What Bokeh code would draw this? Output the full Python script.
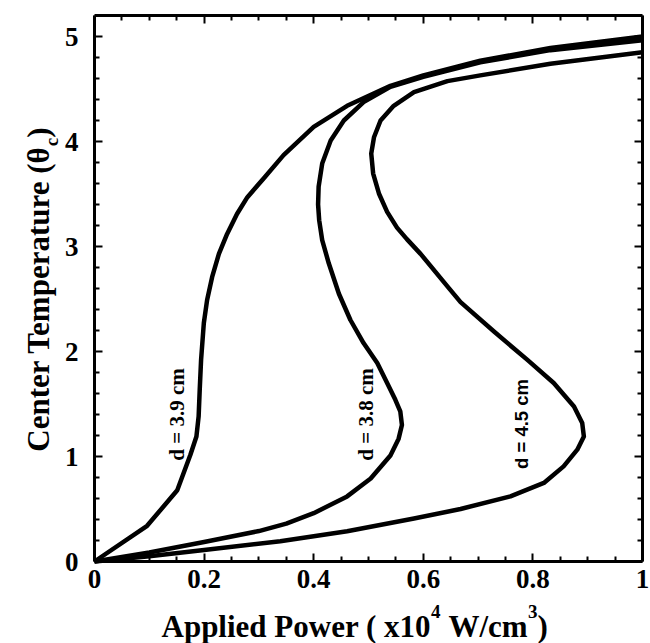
import math
from bokeh.plotting import figure
from bokeh.models import LinearAxis, FixedTicker, Label, Range1d
from bokeh.embed import file_html
from bokeh.resources import INLINE

# ---------------- data ----------------
x_ticks = [0, 0.2, 0.4, 0.6, 0.8, 1.0]
x_tick_labels = ["0", "0.2", "0.4", "0.6", "0.8", "1"]
x_minor = [0.05, 0.1, 0.15, 0.25, 0.3, 0.35, 0.45, 0.5, 0.55, 0.65, 0.7, 0.75, 0.85, 0.9, 0.95]
y_ticks = [0, 1, 2, 3, 4, 5]
y_tick_labels = ["0", "1", "2", "3", "4", "5"]
y_minor = [0.2, 0.4, 0.6, 0.8, 1.2, 1.4, 1.6, 1.8, 2.2, 2.4, 2.6, 2.8,
           3.2, 3.4, 3.6, 3.8, 4.2, 4.4, 4.6, 4.8]
x_lo, x_hi = 0.0, 1.0
y_lo, y_hi = 0.0, 5.2

# d = 3.9 cm
a_x = [0, 0.096, 0.151, 0.175, 0.186, 0.190, 0.192, 0.1945, 0.1995, 0.2055, 0.2147,
       0.227, 0.242, 0.260, 0.279, 0.309, 0.345, 0.40, 0.461, 0.54, 0.60, 0.704, 0.832, 1.0]
a_y = [0, 0.34, 0.678, 1.017, 1.19, 1.38, 1.635, 1.92, 2.27, 2.49, 2.71,
       2.93, 3.12, 3.31, 3.47, 3.65, 3.87, 4.14, 4.34, 4.53, 4.63, 4.77, 4.89, 5.0]

# d = 3.8 cm
b_x = [0, 0.10, 0.20, 0.30, 0.35, 0.40, 0.461, 0.504, 0.54, 0.555, 0.561, 0.558,
       0.549, 0.534, 0.516, 0.491, 0.467, 0.446, 0.4275, 0.4155, 0.41, 0.408, 0.409,
       0.4155, 0.431, 0.455, 0.491, 0.54, 0.60, 0.704, 0.832, 1.0]
b_y = [0, 0.085, 0.185, 0.29, 0.36, 0.46, 0.62, 0.79, 1.01, 1.17, 1.30, 1.43,
       1.54, 1.70, 1.89, 2.08, 2.30, 2.55, 2.84, 3.06, 3.25, 3.40, 3.57,
       3.79, 4.01, 4.20, 4.375, 4.52, 4.615, 4.755, 4.87, 4.965]

# d = 4.5 cm
c_x = [0, 0.10, 0.20, 0.339, 0.461, 0.583, 0.668, 0.759, 0.82, 0.856, 0.881, 0.893,
       0.890, 0.875, 0.838, 0.79, 0.729, 0.668, 0.644, 0.595, 0.57, 0.552, 0.534, 0.519,
       0.5085, 0.505, 0.51, 0.522, 0.546, 0.583, 0.644, 0.704, 0.832, 1.0]
c_y = [0, 0.05, 0.11, 0.193, 0.288, 0.41, 0.50, 0.62, 0.748, 0.906, 1.065, 1.19,
       1.32, 1.476, 1.70, 1.92, 2.19, 2.47, 2.62, 2.93, 3.07, 3.18, 3.33, 3.505,
       3.695, 3.885, 4.04, 4.20, 4.34, 4.47, 4.575, 4.63, 4.74, 4.85]

curve_label_text = ["d = 3.9 cm", "d = 3.8 cm", "d = 4.5 cm"]
curve_label_x = [0.150, 0.495, 0.779]
curve_label_y = [1.40, 1.40, 1.31]
curve_label_font = ["Liberation Serif", "Liberation Serif", "Liberation Sans"]
curve_label_size = ["21px", "21px", "18.5px"]

SERIF = "Liberation Serif"

# ---------------- layout (pixels) ----------------
W, H = 650, 643
FL, FR, FT, FB = 94, 642, 15, 561     # box edges on the canvas
sx = (x_hi - x_lo) / (FR - FL)
sy = (y_hi - y_lo) / (FB - FT)
xr = Range1d(x_lo - FL * sx, x_hi + (W - FR) * sx)
yr = Range1d(y_lo - (H - FB) * sy, y_hi + FT * sy)

p = figure(width=W, height=H, x_range=xr, y_range=yr,
           output_backend="svg", toolbar_location=None,
           min_border=0, min_border_left=0, min_border_right=0,
           min_border_top=0, min_border_bottom=0, x_axis_location=None, y_axis_location=None)
p.background_fill_color = "white"
p.border_fill_color = "white"
p.outline_line_color = None
p.xgrid.visible = False
p.ygrid.visible = False

xt = FixedTicker(ticks=x_ticks, minor_ticks=x_minor)
yt = FixedTicker(ticks=y_ticks, minor_ticks=y_minor)

def make_axis(ticker, loc, bounds, labels, overrides=None, standoff=0):
    ax = LinearAxis(ticker=ticker, fixed_location=loc, bounds=bounds)
    ax.axis_line_width = 3
    ax.axis_line_color = "black"
    ax.major_tick_in = 8
    ax.major_tick_out = 0
    ax.minor_tick_in = 5
    ax.minor_tick_out = 0
    ax.major_tick_line_width = 2
    ax.minor_tick_line_width = 2
    ax.axis_label = None
    if labels:
        ax.major_label_overrides = overrides
        ax.major_label_text_font = SERIF
        ax.major_label_text_font_style = "bold"
        ax.major_label_text_font_size = "27px"
        ax.major_label_text_color = "black"
        ax.major_label_standoff = standoff
    else:
        ax.major_label_text_font_size = "0px"
        ax.major_label_text_color = None
        ax.major_label_standoff = 0
    return ax

p.add_layout(make_axis(xt, y_lo, (x_lo, x_hi), True,
                       {t: s for t, s in zip(x_ticks, x_tick_labels)}, 8), "below")
p.add_layout(make_axis(yt, x_lo, (y_lo, y_hi), True,
                       {t: s for t, s in zip(y_ticks, y_tick_labels)}, 16), "left")
p.add_layout(make_axis(xt, y_hi, (x_lo, x_hi), False), "above")
p.add_layout(make_axis(yt, x_hi, (y_lo, y_hi), False), "right")

for xs, ys in [(a_x, a_y), (b_x, b_y), (c_x, c_y)]:
    p.line(xs, ys, line_color="black", line_width=4.5, line_join="round", line_cap="butt")

for t, lx, ly, f, s in zip(curve_label_text, curve_label_x, curve_label_y,
                           curve_label_font, curve_label_size):
    p.add_layout(Label(x=lx, y=ly, text=t, angle=math.pi / 2, text_align="center",
                       text_baseline="middle", text_font=f, text_font_style="bold",
                       text_font_size=s, text_color="black"))

# axis titles (screen units: from canvas left / bottom)
FS = 31
def lab(text, x, y, size, align="left", angle=0.0):
    p.add_layout(Label(x=x, y=y, x_units="screen", y_units="screen", text=text,
                       angle=angle, text_font=SERIF, text_font_style="bold",
                       text_font_size=f"{size}px", text_align=align,
                       text_baseline="alphabetic", text_color="black"))

XB = 17
lab("Applied Power ( x10", 161, XB, FS)
lab("4", 430.5, XB + 15, 19)
lab("W/cm", 448, XB, FS)
lab("3", 527.5, XB + 15, 19)
lab(")", 537, XB, FS)

lab("Center Temperature (\u03b8", 38, 497.3, FS, "right", math.pi / 2)
lab("c", 51, 497.3, 19, "left", math.pi / 2)
lab(")", 38, 505.7, FS, "left", math.pi / 2)

open("out.html", "w").write(file_html(p, INLINE))
